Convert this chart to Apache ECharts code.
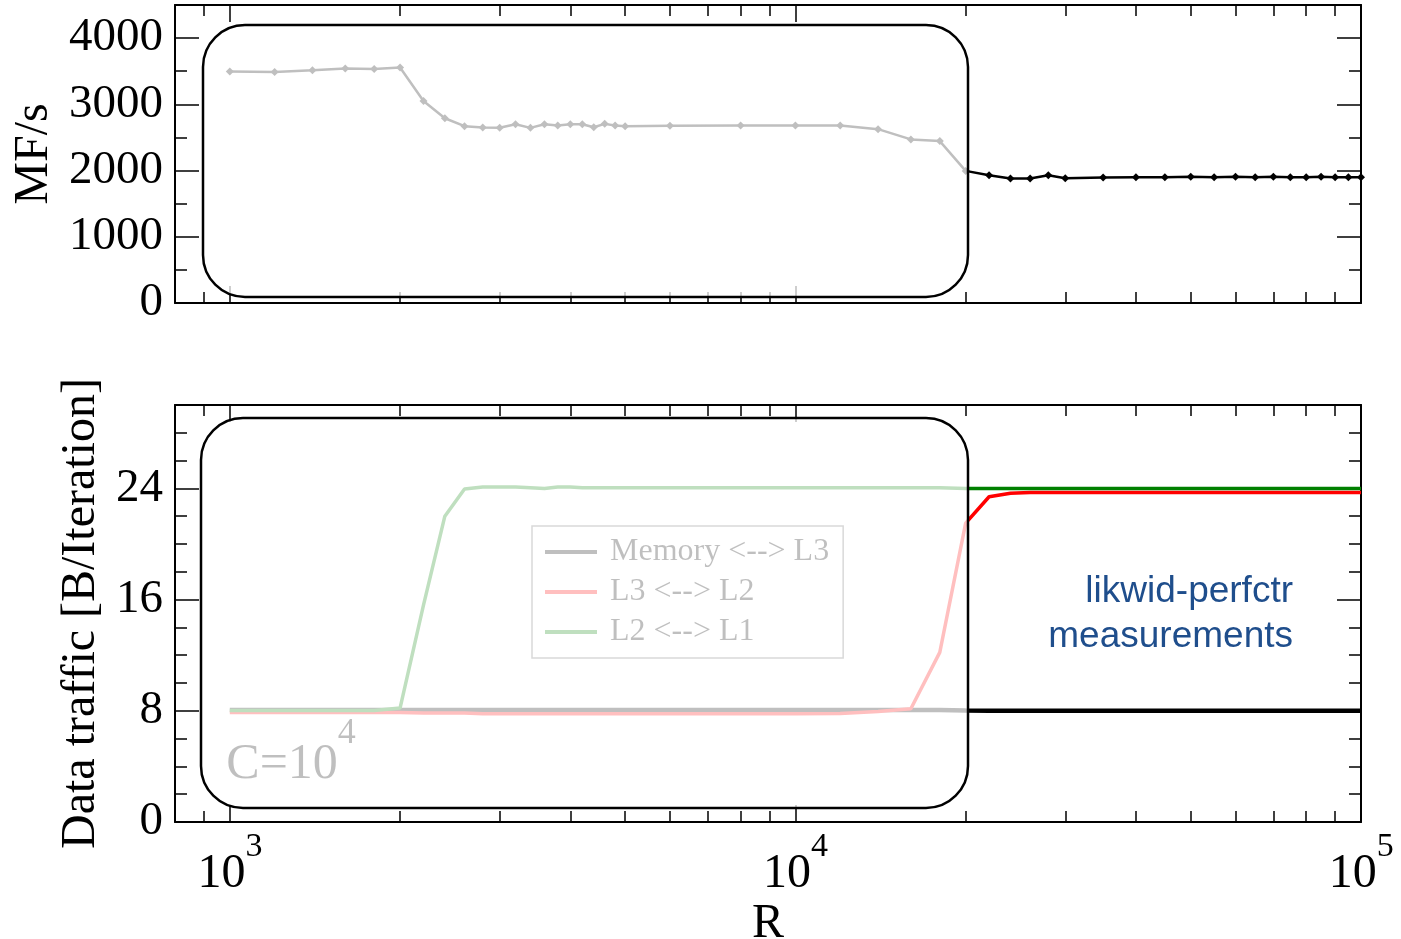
<!DOCTYPE html>
<html>
<head>
<meta charset="utf-8">
<script src="https://cdn.jsdelivr.net/npm/echarts@6/dist/echarts.min.js"></script>
<style>
  html, body { margin: 0; padding: 0; background: #fff; }
  #chart { width: 1401px; height: 939px; }
</style>
</head>
<body>
<div id="chart"></div>
<script>
const SERIF = "'Liberation Serif', 'Times New Roman', serif"

// problem size R (shared by both panels)
const rValues = [
  1000, 1200, 1400, 1600, 1800, 2000, 2200, 2400, 2600, 2800,
  3000, 3200, 3400, 3600, 3800, 4000, 4200, 4400, 4600, 4800,
  5000, 6000, 8000, 10000, 12000, 14000, 16000, 18000, 20000,
  22000, 24000, 26000, 28000, 30000, 35000, 40000, 45000, 50000,
  55000, 60000, 65000, 70000, 75000, 80000, 85000, 90000, 95000, 100000
]

// performance (top panel)
const mflops = [
  3495, 3490, 3515, 3540, 3535, 3555, 3050, 2790, 2670, 2650,
  2645, 2700, 2645, 2700, 2680, 2700, 2700, 2655, 2705, 2680,
  2670, 2675, 2680, 2680, 2680, 2625, 2470, 2445, 1995,
  1930, 1880, 1880, 1930, 1885, 1895, 1900, 1900, 1905,
  1900, 1905, 1900, 1905, 1900, 1900, 1905, 1900, 1900, 1900
]

// data traffic (bottom panel)
const memL3 = [
  8.05, 8.05, 8.05, 8.05, 8.05, 8.05, 8.05, 8.05, 8.05, 8.05,
  8.05, 8.05, 8.05, 8.05, 8.05, 8.05, 8.05, 8.05, 8.05, 8.05,
  8.05, 8.05, 8.05, 8.05, 8.05, 8.05, 8.05, 8.05, 8.02,
  8.0, 8.0, 8.0, 8.0, 8.0, 8.0, 8.0, 8.0, 8.0,
  8.0, 8.0, 8.0, 8.0, 8.0, 8.0, 8.0, 8.0, 8.0, 8.0
]
const l3L2 = [
  7.88, 7.88, 7.88, 7.88, 7.88, 7.88, 7.85, 7.85, 7.85, 7.78,
  7.78, 7.78, 7.78, 7.78, 7.78, 7.78, 7.78, 7.78, 7.78, 7.78,
  7.78, 7.78, 7.78, 7.78, 7.8, 7.95, 8.15, 12.2, 21.5,
  23.4, 23.65, 23.7, 23.7, 23.7, 23.7, 23.7, 23.7, 23.7,
  23.7, 23.7, 23.7, 23.7, 23.7, 23.7, 23.7, 23.7, 23.7, 23.7
]
const l2L1 = [
  8.02, 8.02, 8.02, 8.02, 8.02, 8.2, 15.6, 22.0, 23.95, 24.1,
  24.1, 24.1, 24.05, 24.0, 24.1, 24.1, 24.05, 24.05, 24.05, 24.05,
  24.05, 24.05, 24.05, 24.05, 24.05, 24.05, 24.05, 24.05, 24.0,
  24.0, 24.0, 24.0, 24.0, 24.0, 24.0, 24.0, 24.0, 24.0,
  24.0, 24.0, 24.0, 24.0, 24.0, 24.0, 24.0, 24.0, 24.0, 24.0
]

const seriesNames = ['Memory <--> L3', 'L3 <--> L2', 'L2 <--> L1']

// ticks
const xMajor = [1000, 10000, 100000]
const xMinor = [900, 2000, 3000, 4000, 5000, 6000, 7000, 8000, 9000,
  20000, 30000, 40000, 50000, 60000, 70000, 80000, 90000]
const mfMajor = [0, 1000, 2000, 3000, 4000]
const mfMinor = [500, 1500, 2500, 3500, 4500]
const btMajor = [0, 8, 16, 24]
const btMinor = [2, 4, 6, 10, 12, 14, 18, 20, 22, 26, 28, 30]

const lineBlack = { show: true, onZero: false, lineStyle: { color: '#000', width: 2 } }

// superscript: a tall spacer token makes room so the exponent can sit above the base
const supRich = (base, sup, spacer) => ({
  b: { fontFamily: SERIF, fontSize: base, color: '#000', fill: '#000', lineHeight: base, verticalAlign: 'bottom' },
  s: { fontFamily: SERIF, fontSize: sup, color: '#000', fill: '#000', lineHeight: sup, verticalAlign: 'top' },
  h: { fontSize: 1, lineHeight: spacer }
})

function xAxis(grid, pos, ticks, len, withLine, labels) {
  return {
    type: 'log', gridIndex: grid, position: pos, min: 800, max: 100000,
    axisLine: withLine ? lineBlack : { show: false, onZero: false },
    axisTick: { show: true, inside: true, length: len, customValues: ticks, lineStyle: { color: '#000', width: 1.5 } },
    axisLabel: labels ? {
      show: true, customValues: xMajor, margin: 8,
      formatter: v => '{h| }{b|10}{s|' + Math.round(Math.log10(v)) + '}',
      rich: supRich(48, 34, 68)
    } : { show: false },
    splitLine: { show: false }
  }
}

function yAxis(grid, pos, max, ticks, len, withLine, labels) {
  return {
    type: 'value', gridIndex: grid, position: pos, min: 0, max: max,
    axisLine: withLine ? lineBlack : { show: false, onZero: false },
    axisTick: { show: true, inside: true, length: len, customValues: ticks, lineStyle: { color: '#000', width: 1.5 } },
    axisLabel: labels ? {
      show: true, customValues: labels, margin: 12,
      formatter: v => String(v),
      fontFamily: SERIF, fontSize: 47, color: '#000'
    } : { show: false },
    splitLine: { show: false }
  }
}

// axis positions flip once a side is taken, so the minor ones ask for the opposite side
const xAxes = [
  xAxis(0, 'bottom', xMajor, 17, true, false),
  xAxis(0, 'top', xMajor, 17, true, false),
  xAxis(0, 'top', xMinor, 11, false, false),
  xAxis(0, 'bottom', xMinor, 11, false, false),
  xAxis(1, 'bottom', xMajor, 17, true, true),
  xAxis(1, 'top', xMajor, 17, true, false),
  xAxis(1, 'top', xMinor, 11, false, false),
  xAxis(1, 'bottom', xMinor, 11, false, false)
]
Object.assign(xAxes[4], {
  name: 'R', nameLocation: 'middle', nameGap: 78,
  nameTextStyle: { fontFamily: SERIF, fontSize: 48, color: '#000' }
})

const yAxes = [
  yAxis(0, 'left', 4500, mfMajor, 24, true, mfMajor),
  yAxis(0, 'right', 4500, mfMajor, 24, true, null),
  yAxis(0, 'right', 4500, mfMinor, 12, false, null),
  yAxis(0, 'left', 4500, mfMinor, 12, false, null),
  yAxis(1, 'left', 30, btMajor, 24, true, btMajor),
  yAxis(1, 'right', 30, btMajor, 24, true, null),
  yAxis(1, 'right', 30, btMinor, 12, false, null),
  yAxis(1, 'left', 30, btMinor, 12, false, null)
]
Object.assign(yAxes[0], {
  name: 'MF/s', nameLocation: 'middle', nameGap: 116,
  nameTextStyle: { fontFamily: SERIF, fontSize: 48, color: '#000' }
})
Object.assign(yAxes[4], {
  name: 'Data traffic [B/Iteration]', nameLocation: 'middle', nameGap: 70,
  nameTextStyle: { fontFamily: SERIF, fontSize: 48, color: '#000' }
})

function pairs(ys) {
  return rValues.map((r, i) => [r, ys[i]])
}

const chart = echarts.init(document.getElementById('chart'))
chart.setOption({
  animation: false,
  backgroundColor: '#fff',
  grid: [
    { left: 175, top: 5, width: 1186, height: 298, containLabel: false, outerBoundsMode: 'none' },
    { left: 175, top: 405, width: 1186, height: 417, containLabel: false, outerBoundsMode: 'none' }
  ],
  xAxis: xAxes,
  yAxis: yAxes,
  legend: {
    data: seriesNames,
    orient: 'vertical',
    left: 532, top: 526,
    padding: [10, 14, 10, 13],
    itemGap: 8,
    icon: 'rect',
    itemWidth: 52, itemHeight: 4,
    borderColor: '#666', borderWidth: 1.5,
    textStyle: { fontFamily: SERIF, fontSize: 32, color: '#000', padding: [0, 0, 0, 8] }
  },
  series: [
    {
      name: 'MF/s', type: 'line', xAxisIndex: 0, yAxisIndex: 0,
      data: pairs(mflops),
      symbol: 'diamond', symbolSize: 8,
      lineStyle: { color: '#000', width: 2.5 },
      itemStyle: { color: '#000' }
    },
    {
      name: seriesNames[0], type: 'line', xAxisIndex: 4, yAxisIndex: 4,
      data: pairs(memL3), showSymbol: false, symbol: 'none',
      lineStyle: { color: '#000', width: 4.5 }, itemStyle: { color: '#000' }
    },
    {
      name: seriesNames[1], type: 'line', xAxisIndex: 4, yAxisIndex: 4,
      data: pairs(l3L2), showSymbol: false, symbol: 'none',
      lineStyle: { color: '#ff0000', width: 3.5 }, itemStyle: { color: '#ff0000' }
    },
    {
      name: seriesNames[2], type: 'line', xAxisIndex: 4, yAxisIndex: 4,
      data: pairs(l2L1), showSymbol: false, symbol: 'none',
      lineStyle: { color: '#008000', width: 3.5 }, itemStyle: { color: '#008000' }
    }
  ],
  graphic: [
    {
      type: 'text', z: 50,
      style: {
        x: 226, y: 790, verticalAlign: 'bottom',
        text: '{h| }{b|C=10}{s|4}',
        rich: supRich(50, 36, 74)
      }
    },
    // translucent boxes that fade the cache-resident range
    {
      type: 'rect', z: 100,
      shape: { x: 203, y: 25, width: 765, height: 272, r: 42 },
      style: { fill: 'rgba(255,255,255,0.75)', stroke: '#000', lineWidth: 2.5 }
    },
    {
      type: 'rect', z: 100,
      shape: { x: 201, y: 418, width: 767, height: 390, r: 42 },
      style: { fill: 'rgba(255,255,255,0.75)', stroke: '#000', lineWidth: 2.5 }
    },
    {
      type: 'text', z: 120,
      style: {
        x: 1293, y: 614, align: 'right', verticalAlign: 'middle',
        text: 'likwid-perfctr\nmeasurements',
        font: "37px 'Liberation Sans', Arial, sans-serif",
        lineHeight: 45,
        fill: '#1f4e8c'
      }
    }
  ]
})
</script>
</body>
</html>
